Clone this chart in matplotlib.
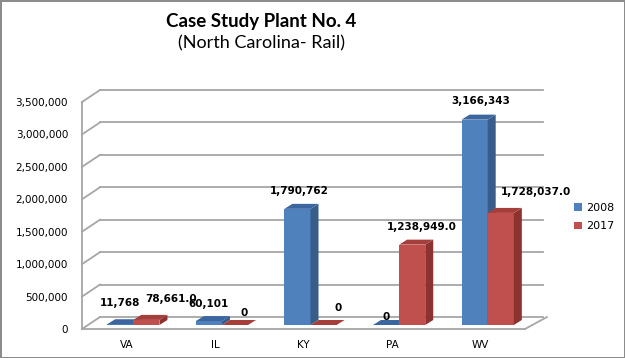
import matplotlib
matplotlib.use("Agg")
import matplotlib.pyplot as plt
from matplotlib.patches import Polygon, Patch
from matplotlib.transforms import ScaledTranslation

# Data
states = ["VA", "IL", "KY", "PA", "WV"]
tons_2008 = [11768, 60101, 1790762, 0, 3166343]
tons_2017 = [78661.0, 0, 0, 1238949.0, 1728037.0]
labels_2008 = ["11,768", "60,101", "1,790,762", "0", "3,166,343"]
labels_2017 = ["78,661.0", "0", "0", "1,238,949.0", "1,728,037.0"]
yticks = [0, 500000, 1000000, 1500000, 2000000, 2500000, 3000000, 3500000]

# label nudges (pixels, from top centre of each bar) to copy the excel placement
nudge_2008 = [(0, 21), (0, 17), (2, 18), (0, 8), (6, 19)]
nudge_2017 = [(25, 21), (9, 12), (15, 17), (10, 18), (35, 21)]

BLUE = ("#4f81bd", "#385d8a", "#3c66a0")   # front, side, top
RED = ("#c0504d", "#8c3330", "#a63f3c")

W, H = 625, 358
fig = plt.figure(figsize=(W / 100, H / 100), dpi=100)
fig.patch.set_edgecolor("#8c8c8c")
fig.patch.set_linewidth(2)

# front plane of the 3d box (pixels): x 82..525, y 329..102
ax = fig.add_axes([82 / W, 1 - 329 / H, 443 / W, 227 / H])
ymax = 3500000
ax.set_xlim(-0.5, len(states) - 0.5)
ax.set_ylim(0, ymax)
for s in ax.spines.values():
    s.set_visible(False)
ax.patch.set_visible(False)

px_x = len(states) / 443.0   # data units per pixel
px_y = ymax / 227.0

def shifted(dx, dy):
    return ax.transData + ScaledTranslation(dx / 100, dy / 100, fig.dpi_scale_trans)

back = shifted(18, 12)
grid_col = "#a6a6a6"

# back wall gridlines + left wall diagonals
for v in yticks:
    ax.plot([-0.5, len(states) - 0.5], [v, v], color=grid_col, lw=1.3,
            transform=back, clip_on=False, zorder=1)
    ax.plot([-0.5, -0.5 + 18 * px_x], [v, v + 12 * px_y], color=grid_col,
            lw=1.3, clip_on=False, zorder=1)
# left front edge and floor front/right edges
ax.plot([-0.5, -0.5], [0, ymax], color=grid_col, lw=1.3, clip_on=False, zorder=1)
ax.plot([-0.5, len(states) - 0.5], [0, 0], color=grid_col, lw=1.3, clip_on=False, zorder=1)
ax.plot([len(states) - 0.5, len(states) - 0.5 + 22 * px_x], [0, 12 * px_y],
        color=grid_col, lw=1.3, clip_on=False, zorder=1)

# bars
bw = 0.295
bar_tr = shifted(7, 4)
ddx, ddy = 8 * px_x, 5 * px_y

def draw_bar(x, h, cols, z):
    x0, x1 = x - bw / 2, x + bw / 2
    ax.bar(x, h, width=bw, color=cols[0], transform=bar_tr, clip_on=False,
           zorder=z, linewidth=0)
    side = Polygon([(x1, 0), (x1, h), (x1 + ddx, h + ddy), (x1 + ddx, ddy)],
                   closed=True, facecolor=cols[1], edgecolor="none",
                   transform=bar_tr, clip_on=False, zorder=z)
    top = Polygon([(x0, h), (x1, h), (x1 + ddx, h + ddy), (x0 + ddx, h + ddy)],
                  closed=True, facecolor=cols[2], edgecolor="none",
                  transform=bar_tr, clip_on=False, zorder=z)
    ax.add_patch(side)
    ax.add_patch(top)

for i in range(len(states)):
    draw_bar(i - bw / 2, tons_2008[i], BLUE, 3 + 2 * i)
    draw_bar(i + bw / 2, tons_2017[i], RED, 4 + 2 * i)
    for xc, h, lab, (nx, ny) in [(i - bw / 2, tons_2008[i], labels_2008[i], nudge_2008[i]),
                                 (i + bw / 2, tons_2017[i], labels_2017[i], nudge_2017[i])]:
        ax.annotate(lab, (xc, h), xycoords=bar_tr,
                    xytext=(nx * 0.72, ny * 0.72), textcoords="offset points",
                    ha="center", va="center", fontsize=7.5, fontweight="bold",
                    annotation_clip=False, zorder=20)

ax.set_yticks(yticks)
ax.set_yticklabels(["{:,}".format(v) for v in yticks])
ax.set_xticks(range(len(states)))
ax.set_xticklabels(states)
ax.tick_params(axis="y", length=0, pad=10, labelsize=7.5)
ax.tick_params(axis="x", length=0, pad=8, labelsize=7.5)

# titles
fig.text(261 / W, 1 - 21 / H, "Case Study Plant No. 4", ha="center", va="center",
         fontsize=13.5, fontweight="bold", family="Lato")
fig.text(261 / W, 1 - 43 / H, "(North Carolina- Rail)", ha="center", va="center",
         fontsize=13, family="Lato")

handles = [Patch(facecolor=BLUE[0]), Patch(facecolor=RED[0])]
fig.legend(handles, ["2008", "2017"], loc="center left",
           bbox_to_anchor=(564 / W, 1 - 217 / H), frameon=False, fontsize=8,
           handlelength=0.7, handleheight=0.7, handletextpad=0.4, labelspacing=0.8)

fig.savefig("out.png", dpi=100)
